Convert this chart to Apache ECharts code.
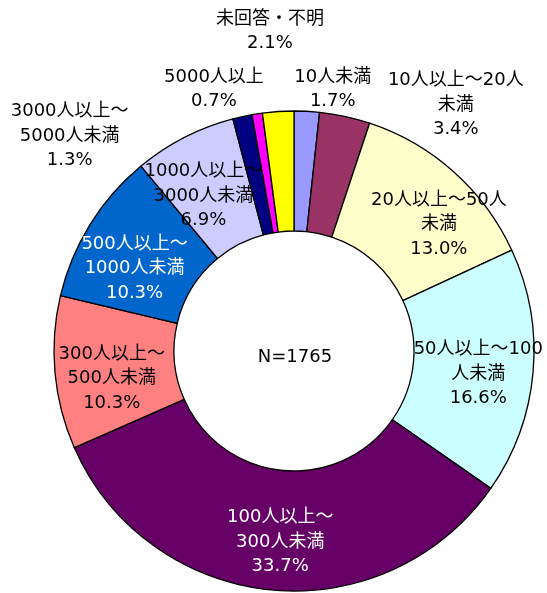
<!DOCTYPE html>
<html>
<head>
<meta charset="utf-8">
<script src="https://cdn.jsdelivr.net/npm/echarts@6/dist/echarts.min.js"></script>
<style>
html,body{margin:0;padding:0;background:#fff;}
#chart{width:547px;height:593px;}
</style>
</head>
<body>
<div id="chart"></div>
<script>
// ---- data ----
var categories = ['10人未満','10人以上～20人未満','20人以上～50人未満','50人以上～100人未満','100人以上～300人未満','300人以上～500人未満','500人以上～1000人未満','1000人以上～3000人未満','3000人以上～5000人未満','5000人以上','未回答・不明'];
var labelNames = ['10人未満','10人以上～20人\n未満','20人以上～50人\n未満','50人以上～100\n人未満','100人以上～\n300人未満','300人以上～\n500人未満','500人以上～\n1000人未満','1000人以上～\n3000人未満','3000人以上～\n5000人未満','5000人以上','未回答・不明'];
var percents = [1.7, 3.4, 13.0, 16.6, 33.7, 10.3, 10.3, 6.9, 1.3, 0.7, 2.1];
var totalN = 1765;

// ---- styles ----
var colors = ['#9999FF','#993366','#FFFFCC','#CCFFFF','#660066','#FF8080','#0066CC','#CCCCFF','#000080','#FF00FF','#FFFF00'];
var labelColors = ['#000','#000','#000','#000','#fff','#000','#fff','#000','#000','#000','#000'];
// label offsets from the library's default inside label position
var labelOffsets = [[29,-79],[123,-67],[23,10],[2,7],[4,9],[0,11],[-4,14],[-7,8],[-185,-36],[-52,-81],[-12,-137]];
var FONT = "'DejaVu Sans', 'Noto Sans CJK JP', sans-serif";
var cx = 294, cy = 351;

var chart = echarts.init(document.getElementById('chart'), null, {renderer:'canvas'});
var data = categories.map(function(c,i){
  return {
    name: c,
    value: percents[i],
    itemStyle: {color: colors[i]},
    label: {color: labelColors[i], formatter: labelNames[i] + '\n' + percents[i].toFixed(1) + '%'}
  };
});
chart.setOption({
  animation: false,
  series: [{
    type: 'pie',
    center: [cx, cy],
    radius: [120, 240],
    startAngle: 90,
    clockwise: true,
    avoidLabelOverlap: false,
    silent: true,
    itemStyle: {borderColor: '#000', borderWidth: 1.3},
    label: {
      show: true,
      position: 'inside',
      fontFamily: FONT,
      fontSize: 18,
      lineHeight: 24.5,
      align: 'center'
    },
    labelLine: {show: false},
    labelLayout: function(p){
      var o = labelOffsets[p.dataIndex];
      return {
        x: p.labelRect.x + p.labelRect.width/2 + o[0],
        y: p.labelRect.y + p.labelRect.height/2 + o[1],
        align: 'center',
        verticalAlign: 'middle'
      };
    },
    data: data
  }],
  graphic: [{
    type: 'text',
    x: cx + 1, y: cy + 6,
    style: {text: 'N=' + totalN, fontFamily: FONT, fontSize: 18, fill: '#000', align: 'center', verticalAlign: 'middle'}
  }]
});
</script>
</body>
</html>
